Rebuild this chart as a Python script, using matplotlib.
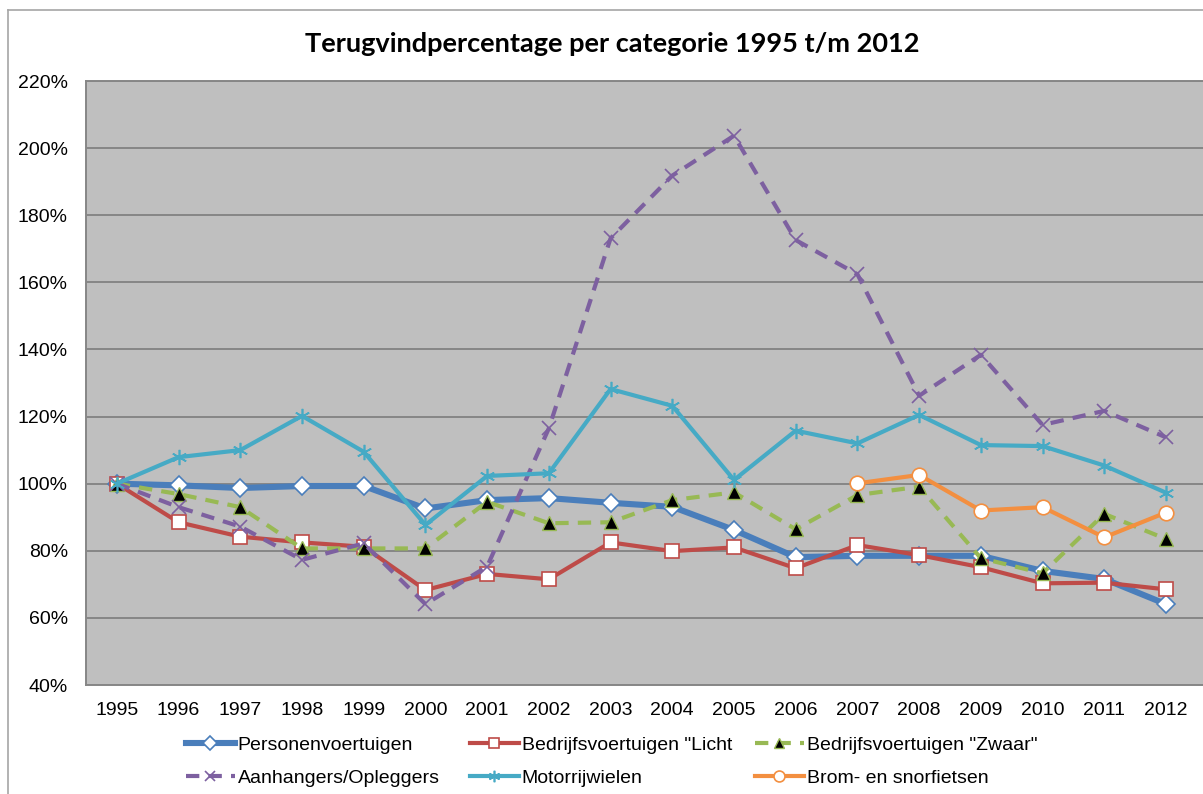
import matplotlib
matplotlib.use("Agg")
import matplotlib.pyplot as plt
from matplotlib.lines import Line2D
from matplotlib.ticker import FuncFormatter, MultipleLocator

years = [str(y) for y in range(1995, 2013)]

personen = [100, 99.5, 98.7, 99.3, 99.3, 92.6, 95.1, 95.7, 94.3, 93.1, 86.2, 78.1, 78.5, 78.5, 78.5, 74.0, 71.6, 64.1]
licht = [100, 88.5, 84.2, 82.5, 81.2, 68.3, 73.1, 71.5, 82.5, 79.9, 81.0, 74.8, 81.7, 78.7, 75.1, 70.3, 70.5, 68.5]
zwaar = [100, 96.9, 93.0, 80.7, 80.7, 80.7, 94.6, 88.2, 88.5, 95.1, 97.4, 86.4, 96.6, 99.1, 77.8, 73.3, 91.0, 83.5]
aanhangers = [100, 93.0, 87.2, 77.3, 82.2, 64.1, 75.3, 116.5, 173.1, 191.8, 203.7, 172.6, 162.4, 126.2, 138.4, 117.5, 121.7, 113.8]
motor = [100, 107.9, 110.0, 120.2, 109.5, 87.7, 102.3, 103.1, 128.2, 123.2, 101.1, 115.8, 112.0, 120.5, 111.5, 111.2, 105.4, 97.3]
brom_years = ["2007", "2008", "2009", "2010", "2011", "2012"]
brom = [100.1, 102.6, 92.0, 93.0, 84.0, 91.4]

labels = ["Personenvoertuigen", "Bedrijfsvoertuigen \"Licht", "Bedrijfsvoertuigen \"Zwaar\"",
          "Aanhangers/Opleggers", "Motorrijwielen", "Brom- en snorfietsen"]

W, H = 1203, 794
fig = plt.figure(figsize=(W / 100, H / 100), dpi=100)
plt.rcParams['font.family'] = ['Liberation Sans', 'DejaVu Sans']

# outer chart border
fig.add_artist(Line2D([8 / W, 8 / W], [0, 1 - 10 / H], color="#A6A6A6", lw=1.2, transform=fig.transFigure))
fig.add_artist(Line2D([8 / W, 1], [1 - 10 / H, 1 - 10 / H], color="#A6A6A6", lw=1.2, transform=fig.transFigure))

left, top, bottom, right = 86, 81, 685, 1203
ax = fig.add_axes([left / W, 1 - bottom / H, (right - left) / W, (bottom - top) / H])
ax.set_facecolor("#BFBFBF")

x = list(range(len(years)))
xb = [years.index(y) for y in brom_years]

blue, red, green, purple, teal, orange = "#4A7EBB", "#BE4B48", "#98B954", "#7D60A0", "#46AAC5", "#F38F40"

h1, = ax.plot(x, personen, color=blue, lw=4.4, marker="D", ms=9.5, mfc="white", mec=blue, mew=1.2, zorder=3)
h2, = ax.plot(x, licht, color=red, lw=3.0, marker="s", ms=10.5, mfc="white", mec=red, mew=1.2, zorder=4)
h3, = ax.plot(x, zwaar, color=green, lw=3.0, ls=(0, (3.2, 2.2)), marker="^", ms=9.5, mfc="black", mec=green, mew=1.0, zorder=5)
h4, = ax.plot(x, aanhangers, color=purple, lw=3.0, ls=(0, (3.2, 2.2)), marker="x", ms=10, mec=purple, mew=1.2, zorder=6)
h5, = ax.plot(x, motor, color=teal, lw=3.0, marker=(6, 2, 0), ms=11, mec=teal, mew=1.2, zorder=7)
h6, = ax.plot(xb, brom, color=orange, lw=3.0, marker="o", ms=10.5, mfc="white", mec=orange, mew=1.2, zorder=8)

ax.set_ylim(40, 220)
ax.yaxis.set_major_locator(MultipleLocator(20))
ax.yaxis.set_major_formatter(FuncFormatter(lambda v, p: f"{v:.0f}%"))
ax.set_xlim(-0.5, 17 + (1203 - 1166) / 61.7)
ax.set_xticks(x)
ax.set_xticklabels(years)
ax.tick_params(axis="both", length=0, labelsize=14, colors="black")
ax.tick_params(axis="y", pad=13)
ax.tick_params(axis="x", pad=12)
ax.grid(axis="y", color="#868686", lw=1.4)
ax.set_axisbelow(True)
for s in ["left", "bottom", "top"]:
    ax.spines[s].set_color("#868686")
    ax.spines[s].set_linewidth(1.4)
ax.spines["right"].set_visible(False)

fig.text(612 / W, 1 - 44 / H, "Terugvindpercentage per categorie 1995 t/m 2012",
         ha="center", va="center", fontsize=19.5, fontweight="bold", family=["Lato", "DejaVu Sans"])

# legend: three columns placed individually
cols = [([h1, h4], [labels[0], labels[3]], 186),
        ([h2, h5], [labels[1], labels[4]], 470),
        ([h3, h6], [labels[2], labels[5]], 755)]
for hs, ls_, xpx in cols:
    leg = fig.legend(hs, ls_, ncol=1, loc="upper left", bbox_to_anchor=(xpx / W, 1 - 736 / H),
                     frameon=False, fontsize=14, handlelength=2.5, handletextpad=0.15,
                     labelspacing=0.82, borderaxespad=0, borderpad=0, markerscale=0.75)

fig.savefig("out.png", dpi=100)
